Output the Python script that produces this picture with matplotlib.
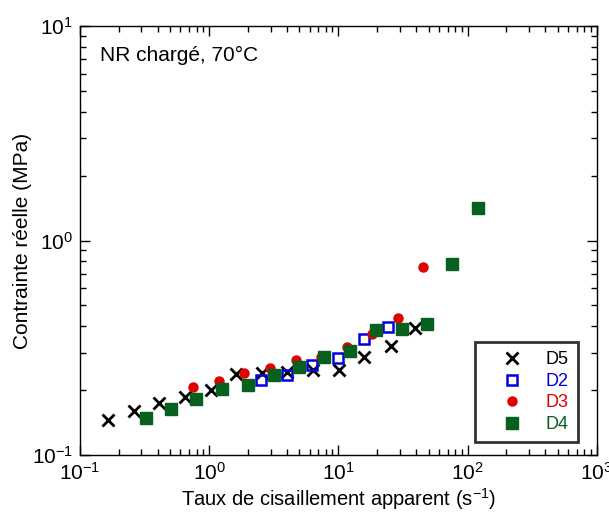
import matplotlib.pyplot as plt
from matplotlib.ticker import LogLocator, NullFormatter

plt.rcParams['font.family'] = ['Liberation Sans', 'DejaVu Sans']
plt.rcParams['mathtext.fontset'] = 'custom'
plt.rcParams['mathtext.rm'] = 'Liberation Sans'
plt.rcParams['mathtext.it'] = 'Liberation Sans:italic'
plt.rcParams['mathtext.bf'] = 'Liberation Sans:bold'
plt.rcParams['axes.unicode_minus'] = False

# Shear rate (1/s) and true stress (MPa) for each die
d5_x = [0.166, 0.263, 0.413, 0.652, 1.03, 1.63, 2.57, 4.03, 6.37, 10.1, 15.9, 25.4, 39.2]
d5_y = [0.146, 0.161, 0.175, 0.187, 0.200, 0.239, 0.241, 0.243, 0.250, 0.248, 0.286, 0.323, 0.392]

d2_x = [2.54, 4.03, 6.3, 10.0, 15.9, 24.4]
d2_y = [0.224, 0.236, 0.264, 0.283, 0.348, 0.396]

d3_x = [0.752, 1.19, 1.87, 2.96, 4.67, 7.35, 11.6, 18.2, 29.2, 45.5]
d3_y = [0.208, 0.222, 0.240, 0.254, 0.276, 0.287, 0.317, 0.367, 0.434, 0.754]

d4_x = [0.326, 0.511, 0.797, 1.27, 2.01, 3.2, 4.99, 7.79, 12.4, 19.7, 31.3, 48.8, 76.2, 121]
d4_y = [0.149, 0.164, 0.182, 0.204, 0.213, 0.237, 0.258, 0.285, 0.306, 0.384, 0.385, 0.409, 0.778, 1.42]

blue = '#0000DD'
red = '#E00000'
green = '#06601E'

fig = plt.figure(figsize=(6.09, 5.14), dpi=100)
ax = fig.add_axes([0.131, 0.115, 0.849, 0.834])

ax.plot(d5_x, d5_y, linestyle='none', marker='x', ms=8, mew=2, color='black', label='D5')
ax.plot(d2_x, d2_y, linestyle='none', marker='s', ms=7, mew=1.8, mfc='none', mec=blue, label='D2')
ax.plot(d3_x, d3_y, linestyle='none', marker='o', ms=6.5, color=red, label='D3')
ax.plot(d4_x, d4_y, linestyle='none', marker='s', ms=8, color=green, label='D4')

ax.set_xscale('log')
ax.set_yscale('log')
ax.set_xlim(0.1, 1000)
ax.set_ylim(0.1, 10)

ax.xaxis.set_minor_locator(LogLocator(base=10, subs=range(2, 10)))
ax.yaxis.set_minor_locator(LogLocator(base=10, subs=range(2, 10)))
ax.xaxis.set_minor_formatter(NullFormatter())
ax.yaxis.set_minor_formatter(NullFormatter())
ax.tick_params(which='both', direction='in', top=True, right=True, labelsize=15, width=1)
ax.tick_params(which='major', length=7, pad=5)
ax.tick_params(which='minor', length=4)
for s in ax.spines.values():
    s.set_linewidth(1)

ax.set_xlabel('Taux de cisaillement apparent (s$^{-1}$)', fontsize=14.5, labelpad=2)
ax.set_ylabel('Contrainte réelle (MPa)', fontsize=15, labelpad=0)

ax.text(0.04, 0.932, 'NR chargé, 70°C', transform=ax.transAxes, fontsize=15, va='center', ha='left')

leg = ax.legend(loc='lower right', bbox_to_anchor=(0.963, 0.03), fontsize=13, frameon=True,
                fancybox=False, markerfirst=True, handletextpad=0.3, borderpad=0.5,
                labelspacing=0.25, handlelength=3.1, borderaxespad=0)
leg.get_frame().set_edgecolor('black')
leg.get_frame().set_linewidth(2)
for txt, c in zip(leg.get_texts(), ['black', blue, red, green]):
    txt.set_color(c)

fig.savefig('out.png', dpi=100)
